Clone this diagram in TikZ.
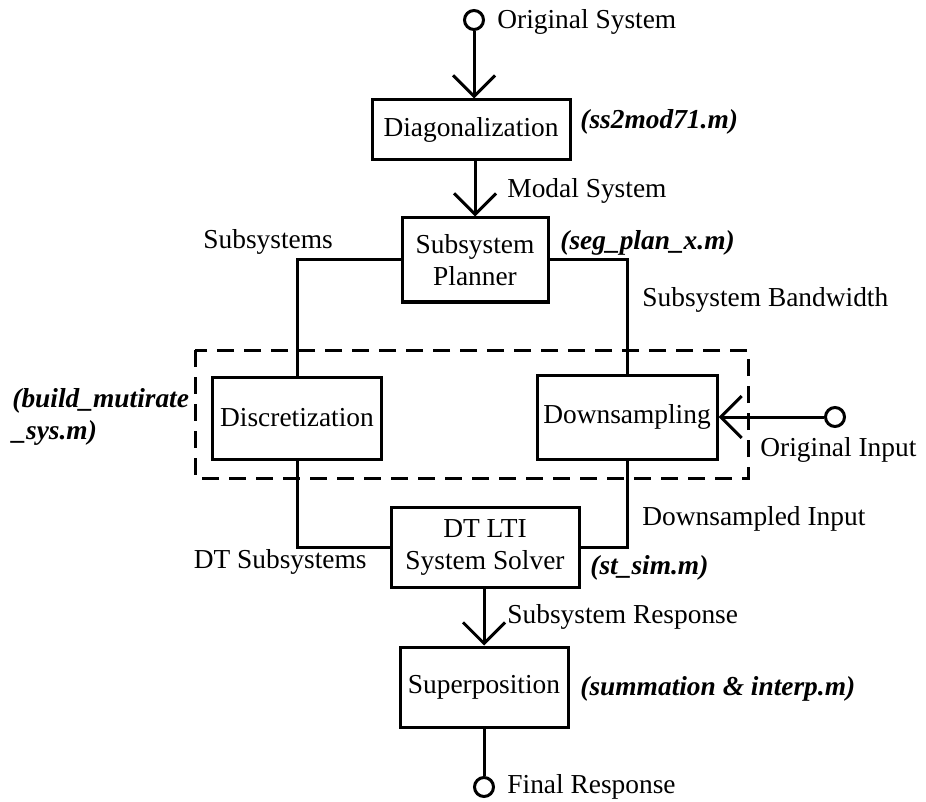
\documentclass[tikz,border=0pt]{standalone}
\usepackage{fontspec}
\setmainfont{Liberation Serif}
\usetikzlibrary{arrows.meta}
\tikzset{blk/.style={draw, line width=1.5pt, inner sep=0pt, align=center},
  term/.style={circle, draw, line width=1.5pt, inner sep=0pt, minimum size=9.5pt},
  lbl/.style={inner sep=0pt, anchor=west},
  file/.style={lbl, font=\fontsize{13.7}{16}\selectfont\bfseries\itshape},
  flow/.style={line width=1.5pt},
  feed/.style={flow, -{Straight Barb[length=10.5pt, width=21pt]}}}

\begin{document}
\begin{tikzpicture}[x=0.5pt, y=-0.5pt, font=\fontsize{13.7}{16}\selectfont]
    \useasboundingbox (0,0) rectangle (926,802);
    \node[term] (orig) at (474,20) {};
    \node[blk, minimum width=99pt, minimum height=30pt] (diag) at (471,130) {Diagonalization};
    \node[blk, minimum width=73pt, minimum height=42pt] (plan) at (475,260) {Subsystem\\Planner};
    \node[blk, minimum width=84.5pt, minimum height=41pt] (discr) at (297,418) {Discretization};
    \node[blk, minimum width=90pt, minimum height=42pt] (down) at (627,417) {Downsampling};
    \node[term] (inp) at (835,417) {};
    \node[blk, minimum width=94pt, minimum height=40pt] (solver) at (485,547) {DT LTI\\System Solver};
    \node[blk, minimum width=84pt, minimum height=40pt] (sup) at (484,687) {Superposition};
    \node[term] (final) at (484,787) {};
    \draw[line width=1.5pt, dash pattern=on 8.5pt off 5pt] (195,350) rectangle (748,478);
    \draw[feed] (orig) -- (orig |- diag.north);
    \draw[feed] (diag.south -| plan) -- (plan.north);
    \draw[flow] (plan.west) -| (discr.north);
    \draw[flow] (plan.east) -| (down.north);
    \draw[feed] (inp) -- (down.east);
    \draw[flow] (discr.south) |- (solver.west);
    \draw[flow] (down.south) |- (solver.east);
    \draw[feed] (solver.south -| sup) -- (sup.north);
    \draw[flow] (sup) -- (final);
    \node[lbl] at (497,22) {Original System};
    \node[file] at (580,122) {(ss2mod71.m)};
    \node[lbl] at (507,191) {Modal System};
    \node[lbl] at (203,242) {Subsystems};
    \node[file] at (560,243) {(seg\_plan\_x.m)};
    \node[lbl] at (642,300) {Subsystem Bandwidth};
    \node[file, align=left] at (12,417) {(build\_mutirate\\\_sys.m)};
    \node[lbl] at (760,450) {Original Input};
    \node[lbl] at (642,519) {Downsampled Input};
    \node[lbl, anchor=east] at (367,562) {DT Subsystems};
    \node[file] at (590,568) {(st\_sim.m)};
    \node[lbl] at (507,617) {Subsystem Response};
    \node[file] at (580,689) {(summation \& interp.m)};
    \node[lbl] at (507,787) {Final Response};
\end{tikzpicture}
\end{document}
